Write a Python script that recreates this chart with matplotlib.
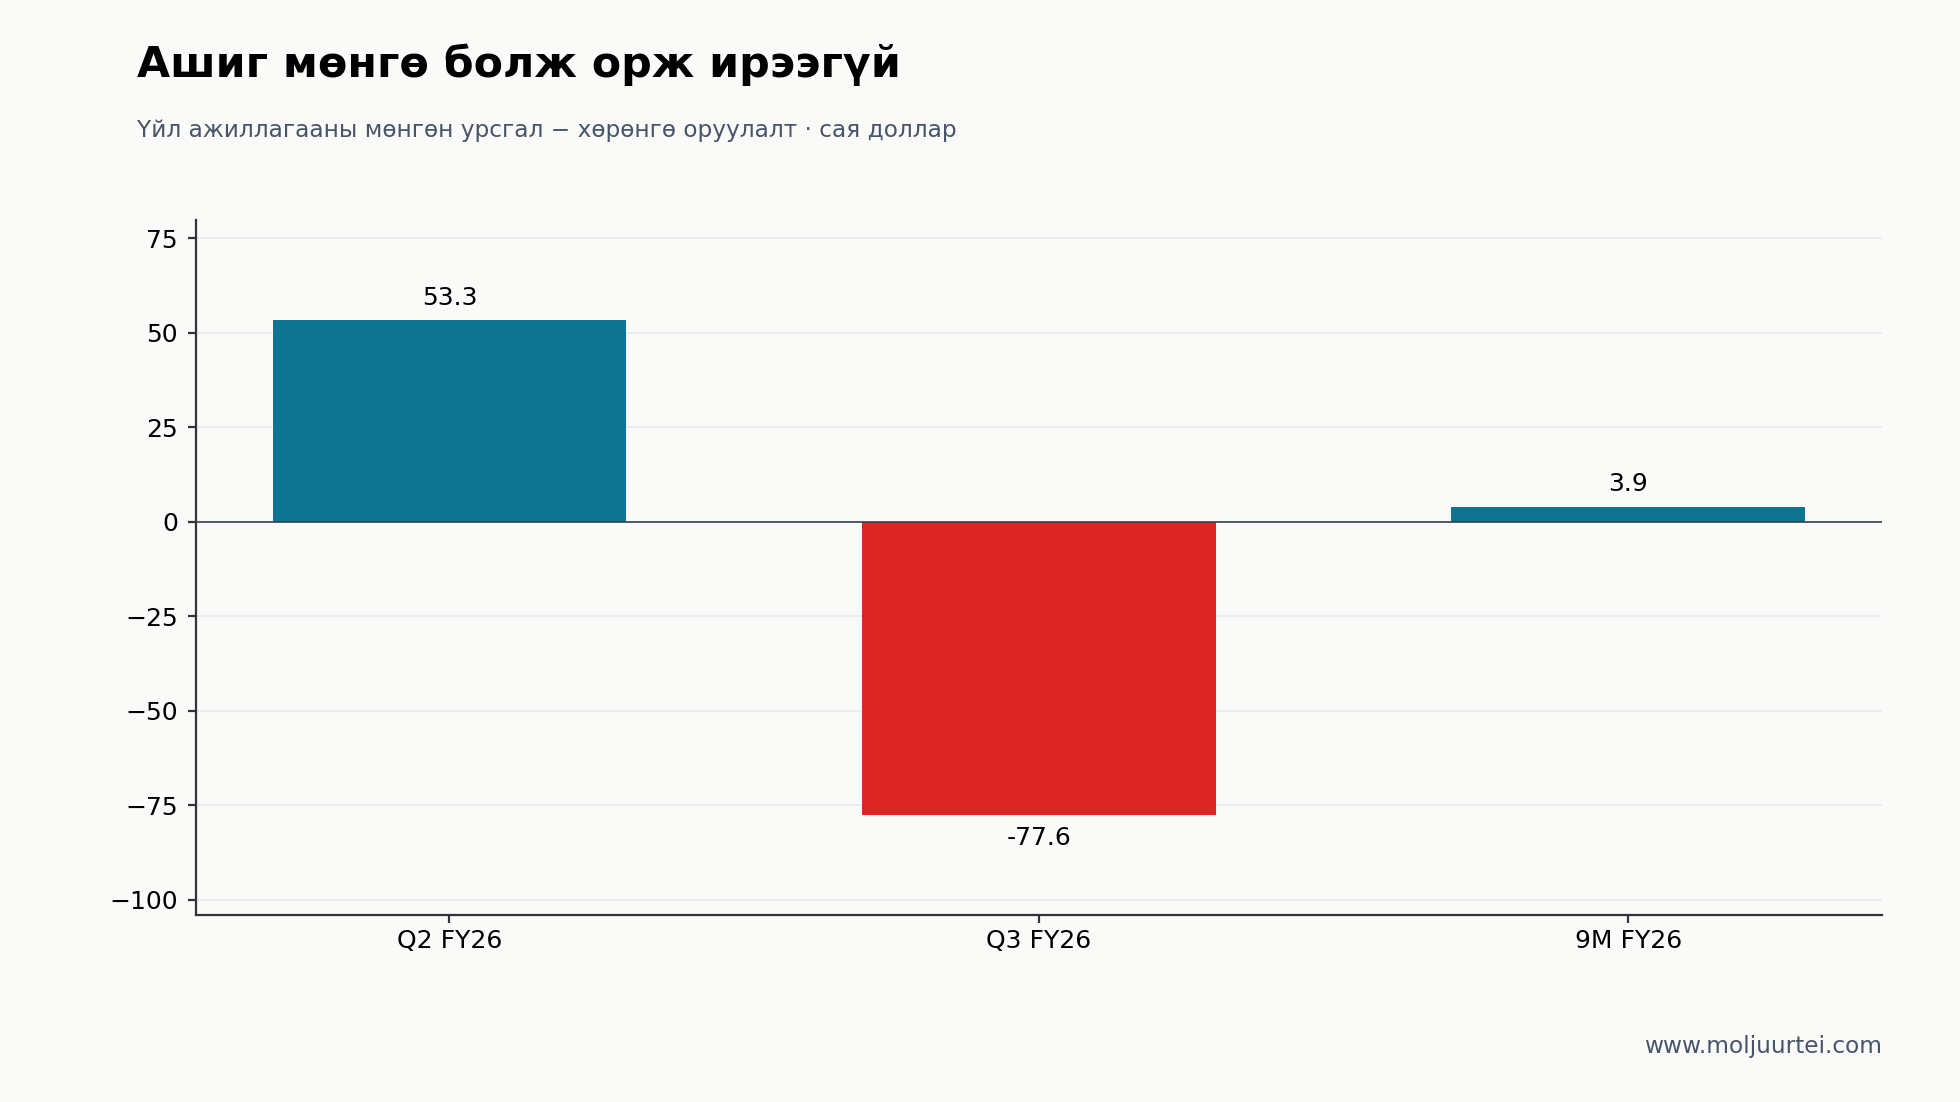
import matplotlib.pyplot as plt

categories = ["Q2 FY26", "Q3 FY26", "9M FY26"]
values = [53.3, -77.6, 3.9]
labels = ["53.3", "-77.6", "3.9"]
yticks = [-100, -75, -50, -25, 0, 25, 50, 75]

pos_color = "#0F7490"
neg_color = "#DC2626"
bg = "#FAFAF8"
muted = "#475569"

fig = plt.figure(figsize=(9.8, 5.51), dpi=200, facecolor=bg)
ax = fig.add_axes([0.1, 0.17, 0.86, 0.63], facecolor=bg)

colors = [pos_color if v >= 0 else neg_color for v in values]
x = range(len(categories))
bars = ax.bar(x, values, width=0.6, color=colors, zorder=3)

for b, v, t in zip(bars, values, labels):
    cx = b.get_x() + b.get_width() / 2
    if v >= 0:
        ax.annotate(t, (cx, v), xytext=(0, 3.8), textcoords="offset points",
                    ha="center", va="bottom", fontsize=9, color="black")
    else:
        ax.annotate(t, (cx, v), xytext=(0, -4), textcoords="offset points",
                    ha="center", va="top", fontsize=9, color="black")

ax.axhline(0, color="#334155", lw=0.6, zorder=4)
ax.set_ylim(-104, 79.7)
ax.set_yticks(yticks)
ax.set_xticks(list(x))
ax.set_xticklabels(categories)
ax.tick_params(labelsize=9, length=3, color="#333333")
ax.tick_params(axis="x", pad=2)
ax.grid(axis="y", color="#EBEBEB", lw=0.6, zorder=0)
ax.set_axisbelow(True)
for s in ["top", "right"]:
    ax.spines[s].set_visible(False)
for s in ["left", "bottom"]:
    ax.spines[s].set_color("#333333")
    ax.spines[s].set_linewidth(0.8)

fig.text(0.07, 0.930, "Ашиг мөнгө болж орж ирээгүй", fontsize=15.4,
         fontweight="bold", ha="left", va="baseline")
fig.text(0.07, 0.876, "Үйл ажиллагааны мөнгөн урсгал − хөрөнгө оруулалт · сая доллар",
         fontsize=8.4, color=muted, ha="left", va="baseline")
fig.text(0.96, 0.0445, "www.moljuurtei.com", fontsize=8.4, color=muted,
         ha="right", va="baseline")

fig.savefig("out.png", dpi=200, facecolor=bg)
